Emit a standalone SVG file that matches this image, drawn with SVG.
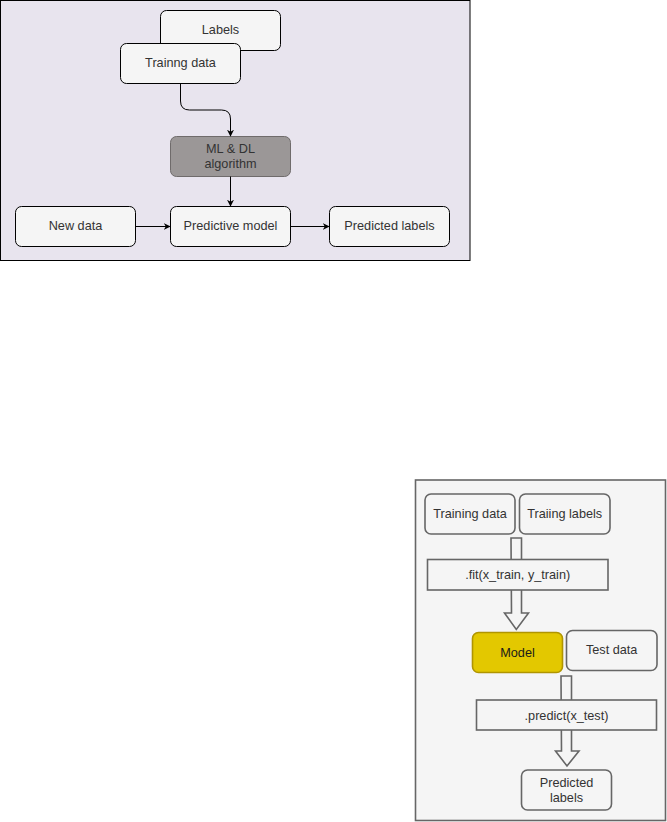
<svg xmlns="http://www.w3.org/2000/svg" width="667" height="822" viewBox="0 0 667 822">
  <defs>
    <marker id="arrow" viewBox="0 0 10 10" refX="9" refY="5" markerWidth="7" markerHeight="7" markerUnits="userSpaceOnUse" orient="auto">
      <path d="M0,0 L10,5 L0,10 L3,5 Z" fill="#000"/>
    </marker>
    <style>
      .t { font-family: "Liberation Sans", Arial, sans-serif; font-size: 12.7px; fill: #333; text-anchor: middle; dominant-baseline: central; }
      .box { fill: #f5f5f5; stroke: #000; stroke-width: 1; }
      .gbox { fill: #f5f5f5; stroke: #666; stroke-width: 1.6; }
      .edge { fill: none; stroke: #000; stroke-width: 1; }
      .hollow { fill: #f5f5f5; stroke: #666; stroke-width: 1.6; stroke-linejoin: miter; }
    </style>
  </defs>

  <!-- Panel 1: general ML workflow -->
  <rect x="0.5" y="0.5" width="469.5" height="260" fill="#e8e4ee" stroke="#000" stroke-width="1"/>

  <g id="labels">
    <rect class="box" x="160.5" y="10.5" width="120" height="40" rx="6"/>
    <text class="t" x="220.5" y="30">Labels</text>
  </g>
  <g id="training-data">
    <rect class="box" x="120.5" y="43.5" width="120" height="40" rx="6"/>
    <text class="t" x="180.5" y="63">Trainng data</text>
  </g>
  <g id="algorithm">
    <rect x="170.5" y="136.5" width="120" height="40" rx="6" fill="#9b9797" stroke="#6f6b6b" stroke-width="1"/>
    <text class="t" x="230.5" y="148.5">ML &amp; DL</text>
    <text class="t" x="230.5" y="163.5">algorithm</text>
  </g>
  <g id="new-data">
    <rect class="box" x="15.5" y="206.5" width="120" height="40" rx="6"/>
    <text class="t" x="75.5" y="226">New data</text>
  </g>
  <g id="predictive-model">
    <rect class="box" x="170.5" y="206.5" width="120" height="40" rx="6"/>
    <text class="t" x="230.5" y="226">Predictive model</text>
  </g>
  <g id="predicted-labels-1">
    <rect class="box" x="329.5" y="206.5" width="120" height="40" rx="6"/>
    <text class="t" x="389.5" y="226">Predicted labels</text>
  </g>

  <g id="connectors-1">
    <path class="edge" d="M180.5,83.5 V101 Q180.5,110 189.5,110 H221.5 Q230.5,110 230.5,119 V136" marker-end="url(#arrow)"/>
    <path class="edge" d="M230.5,176.5 V206" marker-end="url(#arrow)"/>
    <path class="edge" d="M135.5,226.5 H170" marker-end="url(#arrow)"/>
    <path class="edge" d="M290.5,226.5 H329" marker-end="url(#arrow)"/>
  </g>

  <!-- Panel 2: fit / predict workflow -->
  <rect x="415.5" y="480" width="250" height="340.5" fill="#f5f5f5" stroke="#666" stroke-width="1.6"/>

  <g id="connectors-2">
    <path class="hollow" d="M511,538 H521.5 V613 H528.5 L516.3,629.5 L504.5,613 H511.5 Z"/>
    <path class="hollow" d="M561,676 H571.5 V751 H579 L567,766 L555.5,751 H561.5 Z"/>
  </g>

  <g id="train-data">
    <rect class="gbox" x="425" y="494" width="90" height="40" rx="6"/>
    <text class="t" x="470" y="514">Training data</text>
  </g>
  <g id="train-labels">
    <rect class="gbox" x="519.5" y="494" width="90.5" height="40" rx="6"/>
    <text class="t" x="564.7" y="514">Traiing labels</text>
  </g>
  <g id="fit">
    <rect class="gbox" x="427.5" y="559.5" width="180.5" height="30.5"/>
    <text class="t" x="517.7" y="575">.fit(x_train, y_train)</text>
  </g>
  <g id="model">
    <rect x="472.5" y="632.5" width="90" height="40" rx="6" fill="#e3c800" stroke="#b09500" stroke-width="1.6"/>
    <text class="t" x="517.5" y="652.5" style="fill:#1a1a1a">Model</text>
  </g>
  <g id="test-data">
    <rect class="gbox" x="566.5" y="630.5" width="90.5" height="40" rx="6"/>
    <text class="t" x="611.7" y="650">Test data</text>
  </g>
  <g id="predict">
    <rect class="gbox" x="476.5" y="700" width="180" height="30"/>
    <text class="t" x="566.5" y="715.5">.predict(x_test)</text>
  </g>
  <g id="predicted-labels-2">
    <rect class="gbox" x="521.5" y="770" width="90" height="40" rx="6"/>
    <text class="t" x="566.5" y="783">Predicted</text>
    <text class="t" x="566.5" y="798">labels</text>
  </g>
</svg>
